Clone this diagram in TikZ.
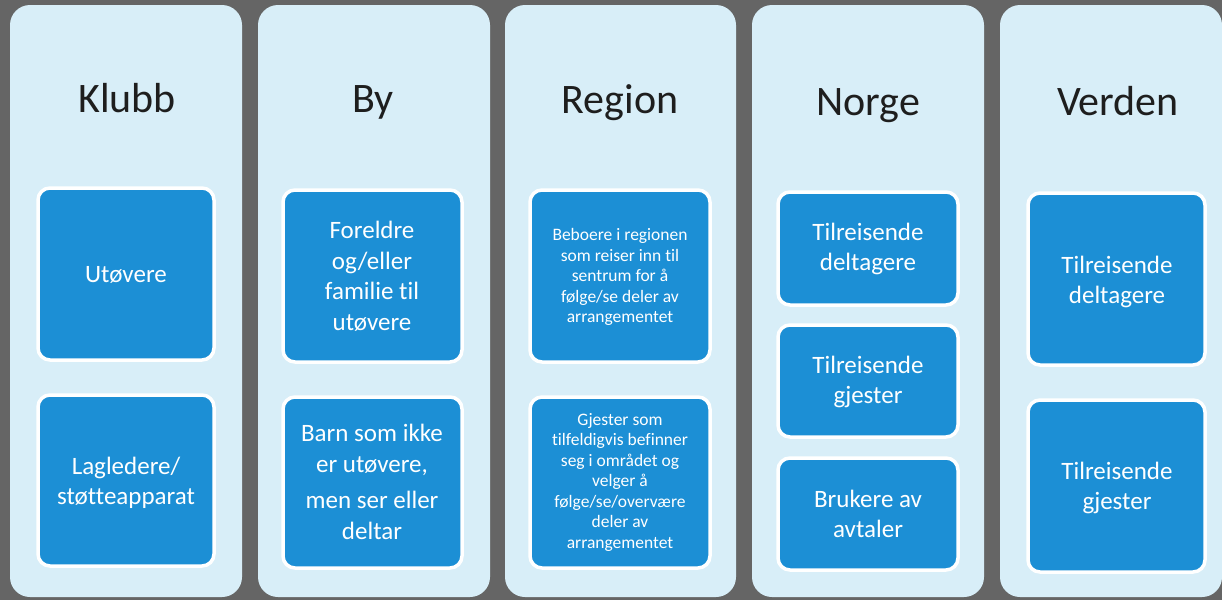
\documentclass[tikz,border=0pt]{standalone}
\usepackage{fontspec}
\setmainfont[RawFeature={-liga;-clig;-dlig}]{Carlito}
\definecolor{bggray}{HTML}{656565}
\definecolor{colfill}{HTML}{D8EEF8}
\definecolor{boxblue}{HTML}{1C8FD5}
\definecolor{titlecol}{HTML}{1E1E1E}
\begin{document}
\begin{tikzpicture}[x=1pt,y=-1pt,
  column/.style={fill=colfill,rounded corners=20pt},
  title/.style={text=titlecol,font=\fontsize{42}{48}\selectfont,anchor=base},
  bluebox/.style={fill=boxblue,draw=white,line width=3.5pt,rounded corners=12pt},
  boxtext/.style={text=white,align=center,font=\fontsize{25}{30.5}\selectfont,anchor=center,text depth=0pt},
  smalltext/.style={text=white,align=center,font=\fontsize{17.5}{20.5}\selectfont,anchor=center}]
\useasboundingbox (0,0) rectangle (1222,600);
\fill[bggray] (0,0) rectangle (1222,600);
% columns
\fill[column] (10,5) rectangle (242,597);
\fill[column] (258,5) rectangle (490,597);
\fill[column] (505,5) rectangle (736,597);
\fill[column] (752,5) rectangle (984,597);
\fill[column] (1000,5) rectangle (1222,597);
% titles
\node[title] (t1) at (127,112) {Klubb};
\node[title] (t2) at (373,112) {By};
\node[title] (t3) at (620,113) {Region};
\node[title] (t4) at (868,115) {Norge};
\node[title] (t5) at (1118,115) {Verden};
% Klubb
\draw[bluebox] (38,188) rectangle (214,360);
\node[boxtext] (k1) at (126,274) {Utøvere};
\draw[bluebox] (38,395) rectangle (214,566);
\node[boxtext] (k2) at (126,481) {Lagledere/\\støtteapparat};
% By
\draw[bluebox] (283,190) rectangle (462,362);
\node[boxtext] (b1) at (372,276) {Foreldre\\og/eller\\familie til\\utøvere};
\draw[bluebox] (283,397) rectangle (462,568);
\node[boxtext] (b2) at (372,482) {Barn som ikke\\er utøvere,\\[6pt]men ser eller\\deltar};
% Region
\draw[bluebox] (530,190) rectangle (710,362);
\node[smalltext] (r1) at (620,277) {Beboere i regionen\\som reiser inn til\\sentrum for å\\følge/se deler av\\arrangementet};
\draw[bluebox] (530,397) rectangle (710,568);
\node[smalltext] (r2) at (620,482) {Gjester som\\tilfeldigvis befinner\\seg i området og\\velger å\\følge/se/overvære\\deler av\\arrangementet};
% Norge
\draw[bluebox] (778,192) rectangle (958,305);
\node[boxtext] (n1) at (868,247) {Tilreisende\\deltagere};
\draw[bluebox] (778,325) rectangle (958,437);
\node[boxtext] (n2) at (868,380) {Tilreisende\\gjester};
\draw[bluebox] (778,458) rectangle (958,570);
\node[boxtext] (n3) at (868,514) {Brukere av\\avtaler};
% Verden
\draw[bluebox] (1028,193) rectangle (1205,365);
\node[boxtext] (v1) at (1117,280) {Tilreisende\\deltagere};
\draw[bluebox] (1028,400) rectangle (1205,572);
\node[boxtext] (v2) at (1117,486) {Tilreisende\\gjester};
\end{tikzpicture}
\end{document}
